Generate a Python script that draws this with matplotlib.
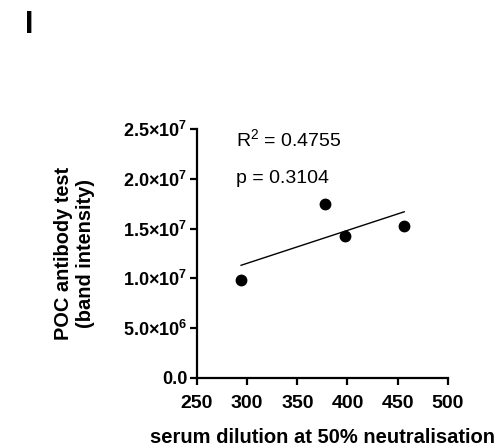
import numpy as np
import matplotlib
matplotlib.use("Agg")
import matplotlib.pyplot as plt
from matplotlib.ticker import FixedLocator, FixedFormatter

plt.rcParams['font.family'] = ['Liberation Sans', 'DejaVu Sans']
plt.rcParams['mathtext.fontset'] = 'custom'
plt.rcParams['mathtext.rm'] = 'Liberation Sans'
plt.rcParams['mathtext.bf'] = 'Liberation Sans:bold'
plt.rcParams['mathtext.default'] = 'bf'

# data
dilution = [294, 377.5, 398, 456.5]
intensity = [0.984e7, 1.75e7, 1.426e7, 1.526e7]
xticks = [250, 300, 350, 400, 450, 500]
yticks = [0, 5e6, 1e7, 1.5e7, 2e7, 2.5e7]
ytick_labels = ['0.0', r'5.0×10$^{6}$', r'1.0×10$^{7}$', r'1.5×10$^{7}$',
                r'2.0×10$^{7}$', r'2.5×10$^{7}$']

x = np.array(dilution)
y = np.array(intensity)
slope, icpt = np.polyfit(x, y, 1)
xf = np.array([x.min(), x.max()])

fig = plt.figure(figsize=(5.01, 4.46), dpi=100)
ax = fig.add_axes([0.393, 0.1525, 0.501, 0.558])

ax.plot(x, y, 'o', color='black', markersize=7.5)
ax.plot(xf, slope * xf + icpt, color='black', lw=1.0)

ax.set_xlim(250, 500)
ax.set_ylim(0, 2.5e7)
ax.xaxis.set_major_locator(FixedLocator(xticks))
ax.yaxis.set_major_locator(FixedLocator(yticks))
ax.yaxis.set_major_formatter(FixedFormatter(ytick_labels))

for s in ['top', 'right']:
    ax.spines[s].set_visible(False)
for s in ['left', 'bottom']:
    ax.spines[s].set_linewidth(1.6)
ax.tick_params(width=1.6, length=5, direction='out')
ax.tick_params(axis='x', labelsize=14, pad=7)
ax.tick_params(axis='y', labelsize=13, pad=2)
plt.setp(ax.get_xticklabels(), fontweight='bold')
plt.setp(ax.get_yticklabels(), fontweight='bold')

ax.set_xlabel('serum dilution at 50% neutralisation', fontsize=14.5,
              fontweight='bold', labelpad=12)
ax.set_ylabel('POC antibody test\n(band intensity)', fontsize=14.4,
              fontweight='bold', labelpad=20, linespacing=1.2)

ax.text(0.155, 0.96, r'R$\mathregular{^2}$ = 0.4755', transform=ax.transAxes,
        fontsize=14, va='center')
ax.text(0.155, 0.80, 'p = 0.3104', transform=ax.transAxes,
        fontsize=14, va='center')

fig.text(0.05, 0.945, 'I', fontsize=22, fontweight='bold', va='center')

fig.savefig('out.png', dpi=100)
